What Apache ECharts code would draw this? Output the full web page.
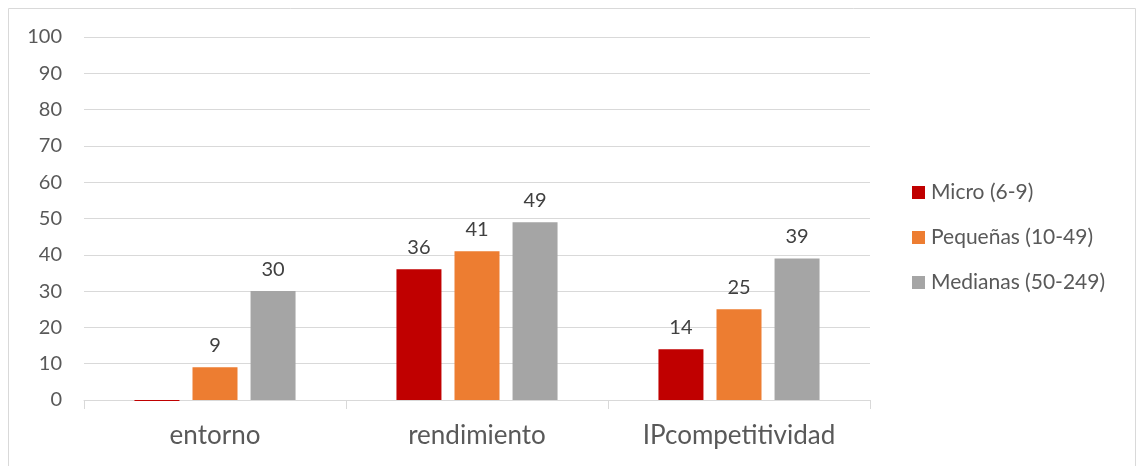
<!DOCTYPE html>
<html>
<head>
<meta charset="utf-8">
<script src="https://cdn.jsdelivr.net/npm/echarts@6/dist/echarts.min.js"></script>
<style>
  html, body { margin: 0; padding: 0; background: #fff; }
  #chart { width: 1137px; height: 466px; }
</style>
</head>
<body>
<div id="chart"></div>
<script>
// Company-size survey results by dimension
const categories = ['entorno', 'rendimiento', 'IPcompetitividad'];
const seriesNames = ['Micro (6-9)', 'Pequeñas (10-49)', 'Medianas (50-249)'];
const micro = [-0.3, 36, 14];
const pequenas = [9, 41, 25];
const medianas = [30, 49, 39];
const colors = ['#c00000', '#ed7d31', '#a5a5a5'];

const FONT = 'Lato, "Open Sans", sans-serif';

function makeSeries(name, data, color) {
  return {
    name: name,
    type: 'bar',
    data: data,
    clip: false,
    barWidth: 45,
    barGap: '29%',
    itemStyle: { color: color },
    label: {
      show: true,
      position: 'top',
      distance: 12,
      color: '#404040',
      fontFamily: FONT,
      fontSize: 20,
      formatter: p => (p.value > 0 ? Math.round(p.value) : '')
    }
  };
}

const chart = echarts.init(document.getElementById('chart'));
chart.setOption({
  animation: false,
  textStyle: { fontFamily: FONT },
  graphic: [{
    type: 'rect',
    shape: { x: 8.5, y: 8.5, width: 1127, height: 470 },
    style: { fill: 'none', stroke: '#d9d9d9', lineWidth: 1 },
    silent: true
  }],
  grid: { left: 84, right: 267, top: 37, bottom: 66 },
  legend: {
    orient: 'vertical',
    left: 912,
    top: 182,
    padding: 0,
    itemWidth: 13,
    itemHeight: 13,
    itemGap: 24,
    icon: 'rect',
    textStyle: { color: '#595959', fontSize: 21, fontFamily: FONT, padding: [0, 0, 0, 1] },
    data: seriesNames
  },
  xAxis: {
    type: 'category',
    data: categories,
    axisLine: { lineStyle: { color: '#d9d9d9', width: 1 } },
    axisTick: { show: true, length: 9, lineStyle: { color: '#d9d9d9' } },
    axisLabel: { color: '#595959', fontSize: 26, margin: 23, fontFamily: FONT }
  },
  yAxis: {
    type: 'value',
    min: 0,
    max: 100,
    interval: 10,
    axisLine: { show: false },
    axisTick: { show: false },
    axisLabel: { color: '#595959', fontSize: 20, margin: 22, fontFamily: FONT },
    splitLine: { lineStyle: { color: '#d9d9d9', width: 1 } }
  },
  series: [
    makeSeries(seriesNames[0], micro, colors[0]),
    makeSeries(seriesNames[1], pequenas, colors[1]),
    makeSeries(seriesNames[2], medianas, colors[2])
  ]
});
</script>
</body>
</html>
